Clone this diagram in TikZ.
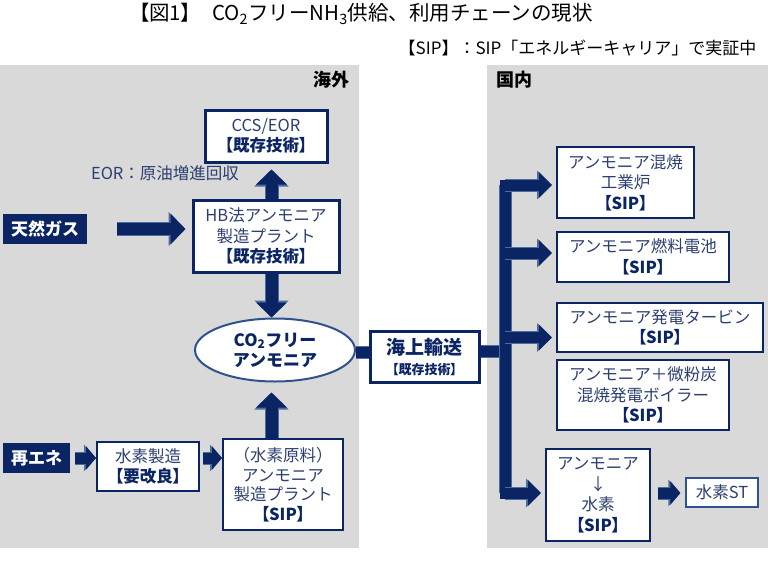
\documentclass[tikz,border=0pt]{standalone}
\usepackage{fontspec}
\setmainfont{Noto Sans CJK JP}
\usetikzlibrary{arrows.meta,shapes.geometric}
\definecolor{navy}{HTML}{0B2463}
\definecolor{edgeblue}{HTML}{4A6C9E}
\definecolor{textblue}{HTML}{2C4070}
\definecolor{panelgray}{HTML}{D9D9D9}
\definecolor{ovalblue}{HTML}{2F528F}
\newcommand{\tagtext}[1]{{\bfseries\color{navy}\addfontfeature{RawFeature=+palt}#1}}
\tikzset{
	txt/.style={font=\fontsize{16.5}{20.5}\selectfont, text=textblue, align=center},
	sipbox/.style={txt, draw=navy, line width=2pt, fill=white, inner sep=0pt},
	oldbox/.style={sipbox, line width=3pt},
	srcbox/.style={fill=navy, text=white, font=\fontsize{17}{20}\selectfont\bfseries, inner sep=0pt},
	fatline/.style={draw=navy, line width=11pt, preaction={draw=edgeblue, line width=13pt}},
	bigarrow/.style={draw=navy, line width=12pt, -{Triangle[length=15pt,width=30pt]},
		preaction={draw=edgeblue, line width=14pt, -{Triangle[length=17pt,width=33pt]}}},
	midarrow/.style={draw=navy, line width=11pt, -{Triangle[length=13pt,width=25pt]},
		preaction={draw=edgeblue, line width=13pt, -{Triangle[length=15pt,width=28pt]}}},
	smallarrow/.style={draw=navy, line width=11pt, -{Triangle[length=10pt,width=23pt]},
		preaction={draw=edgeblue, line width=13pt, -{Triangle[length=12pt,width=26pt]}}}
}

\begin{document}
\begin{tikzpicture}[x=1pt,y=-1pt]
		\useasboundingbox (0,0) rectangle (768,576);
		\fill[white] (0,0) rectangle (768,576);
		\fill[panelgray] (0,65) rectangle (359,548);
		\fill[panelgray] (487,65) rectangle (768,548);
		\node[font=\fontsize{20.5}{22}\selectfont] (title) at (366,14) {{\addfontfeature{RawFeature=+palt}【図1】}　CO\textsubscript{2}フリーNH\textsubscript{3}供給、利用チェーンの現状};
		\node[font=\fontsize{17}{20}\selectfont, anchor=east] (note) at (760,48) {【SIP】：SIP「エネルギーキャリア」で実証中};
		\node[font=\fontsize{18}{20}\selectfont\bfseries] (abroad) at (331,80) {海外};
		\node[font=\fontsize{18}{20}\selectfont\bfseries] (domestic) at (514,80) {国内};

		\node[oldbox, minimum width=122pt, minimum height=52pt] (ccs) at (266,136) {CCS/EOR\\\tagtext{【既存技術】}};
		\node[txt] (eor) at (165,173) {EOR：原油増進回収};
		\node[srcbox, minimum width=84pt, minimum height=30pt] (gas) at (45,229) {天然ガス};
		\node[oldbox, minimum width=146pt, minimum height=72pt] (hb) at (266,236) {HB法アンモニア\\製造プラント\\\tagtext{【既存技術】}};
		\node[ellipse, draw=ovalblue, line width=2pt, fill=white, minimum width=160pt, minimum height=63pt, inner sep=0pt,
			font=\fontsize{17}{20}\selectfont\bfseries, text=navy, align=center] (co2) at (275,350) {CO\textsubscript{2}フリー\\アンモニア};
		\node[srcbox, minimum width=67pt, minimum height=30pt] (renew) at (36.5,458) {再エネ};
		\node[sipbox, minimum width=102pt, minimum height=49pt] (h2make) at (148,466.5) {水素製造\\\tagtext{【要改良】}};
		\node[sipbox, minimum width=120pt, minimum height=91pt, font=\fontsize{16.5}{19.5}\selectfont] (plant2) at (283,484.5) {（水素原料）\\アンモニア\\製造プラント\\\tagtext{【SIP】}};
		\node[oldbox, minimum width=109pt, minimum height=51pt, font=\fontsize{19}{20}\selectfont] (kaijo) at (424.5,357) {\textbf{\color{navy}海上輸送}\\\tagtext{\fontsize{13}{15}\selectfont【既存技術】}};

		\node[sipbox, minimum width=137pt, minimum height=71pt] (use1) at (625.5,182.5) {アンモニア混焼\\工業炉\\\tagtext{【SIP】}};
		\node[sipbox, minimum width=172pt, minimum height=50pt] (use2) at (643,257) {アンモニア燃料電池\\\tagtext{【SIP】}};
		\node[sipbox, minimum width=206pt, minimum height=49pt] (use3) at (660,327.5) {アンモニア発電タービン\\\tagtext{【SIP】}};
		\node[sipbox, minimum width=172pt, minimum height=70pt] (use4) at (643,395) {アンモニア＋微粉炭\\混焼発電ボイラー\\\tagtext{【SIP】}};
		\node[sipbox, minimum width=104pt, minimum height=92pt] (use5) at (598,495) {アンモニア\\↓\\水素\\\tagtext{【SIP】}};
		\node[sipbox, draw=ovalblue, line width=1.2pt, minimum width=72pt, minimum height=29pt] (h2st) at (722,492.5) {水素ST};

		\coordinate (axis) at (271.5,0);
		\coordinate (bartop) at (505,185);
		\coordinate (barbot) at (505,493);
		\draw[bigarrow, shorten >=6pt] (hb.north -| axis) -- (ccs.south -| axis);
		\draw[bigarrow] (hb.south -| axis) -- (co2.north -| axis);
		\draw[bigarrow, shorten >=10pt] (plant2.north -| axis) -- (co2.south -| axis);
		\draw[bigarrow, shorten <=30pt, shorten >=6pt] (gas.east) -- (gas.east -| hb.west);
		\draw[smallarrow, shorten <=5pt] (renew.east) -- (renew.east -| h2make.west);
		\draw[smallarrow, shorten <=3pt] (renew.east -| h2make.east) -- (renew.east -| plant2.west);
		\draw[fatline] ([yshift=-2pt]co2.east) -- ([yshift=-2pt]co2.east -| kaijo.west);
		\draw[fatline] ([yshift=-1pt]co2.east -| kaijo.east) -- ([yshift=-1pt]co2.east -| bartop);
		\draw[fatline, line cap=rect] (bartop) -- (barbot);
		\draw[midarrow, shorten >=4pt] (bartop) -- (bartop -| use1.west);
		\draw[midarrow, shorten >=4pt] ([yshift=4pt]use2.west -| bartop) -- ([yshift=4pt]use2.west);
		\draw[midarrow, shorten >=4pt] ([yshift=-10pt]use3.west -| bartop) -- ([yshift=-10pt]use3.west);
		\draw[midarrow, shorten >=4pt] (barbot) -- (barbot -| use5.west);
		\draw[smallarrow, shorten <=7pt, shorten >=5pt] (use5.east |- barbot) -- (barbot -| h2st.west);
		\end{tikzpicture}
\end{document}
